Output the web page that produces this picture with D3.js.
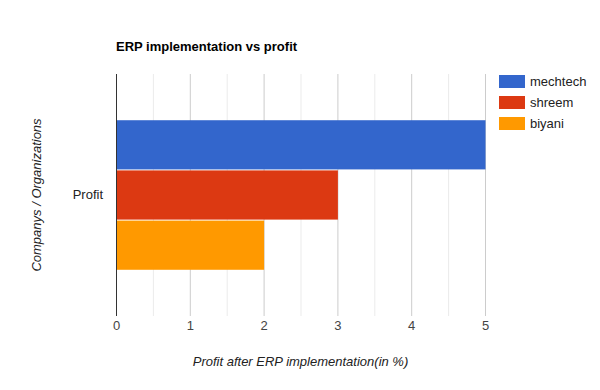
<!DOCTYPE html>
<html>
<head>
<meta charset="utf-8">
<script src="https://cdn.jsdelivr.net/npm/d3@7"></script>
<style>
body{margin:0;background:#fff;}
text{font-family:Arial,"Liberation Sans",sans-serif;}
</style>
</head>
<body>
<svg id="c" width="600" height="390"></svg>
<script>
const categories = ["Profit"];
const seriesNames = ["mechtech", "shreem", "biyani"];
const seriesValues = [[5], [3], [2]];
const seriesColors = ["#3366cc", "#dc3912", "#ff9900"];
const xTicks = [0, 1, 2, 3, 4, 5];
const minorTicks = [0.5, 1.5, 2.5, 3.5, 4.5];
const title = "ERP implementation vs profit";
const xTitle = "Profit after ERP implementation(in %)";
const yTitle = "Companys / Organizations";

const svg = d3.select("#c");
const pLeft = 116, pRight = 485, pTop = 74, pBottom = 316;

const x = d3.scaleLinear().domain([0, 5]).range([pLeft, pRight]);
const y = d3.scaleBand().domain(categories).range([pTop, pBottom]).paddingInner(0).paddingOuter(0);
const groupW = y.bandwidth() * 0.618;
const inner = d3.scaleBand().domain(seriesNames).range([0, groupW]).paddingInner(0.02);

// minor gridlines
svg.append("g").selectAll("line").data(minorTicks).join("line")
  .attr("x1", d => x(d) + 0.5).attr("x2", d => x(d) + 0.5)
  .attr("y1", pTop).attr("y2", pBottom)
  .attr("stroke", "#ebebeb").attr("stroke-width", 1);
// major gridlines
svg.append("g").selectAll("line").data(xTicks.slice(1)).join("line")
  .attr("x1", d => x(d) + 0.5).attr("x2", d => x(d) + 0.5)
  .attr("y1", pTop).attr("y2", pBottom)
  .attr("stroke", "#cccccc").attr("stroke-width", 1);

// bars
categories.forEach((c, ci) => {
  const g0 = y(c) + (y.bandwidth() - groupW) / 2;
  seriesNames.forEach((s, si) => {
    svg.append("rect")
      .attr("x", x(0) + 1)
      .attr("y", g0 + inner(s))
      .attr("width", x(seriesValues[si][ci]) - x(0) - 0.5)
      .attr("height", inner.bandwidth())
      .attr("fill", seriesColors[si]);
  });
});

// baseline axis
svg.append("line").attr("x1", x(0) + 0.5).attr("x2", x(0) + 0.5)
  .attr("y1", pTop).attr("y2", pBottom).attr("stroke", "#333").attr("stroke-width", 1);

// x tick labels
const xAxis = d3.axisBottom(x).tickValues(xTicks).tickSize(0).tickPadding(0).tickFormat(d3.format("d"));
const xg = svg.append("g").attr("transform", `translate(0,${pBottom + 5})`).call(xAxis);
xg.select(".domain").remove();
xg.selectAll("text").attr("font-size", 13).attr("fill", "#444").attr("dy", "0.71em")
  .attr("font-family", "Arial, 'Liberation Sans', sans-serif");

// y category labels
const yAxis = d3.axisLeft(y).tickSize(0).tickPadding(0);
const yg = svg.append("g").attr("transform", `translate(${pLeft - 13},0)`).call(yAxis);
yg.select(".domain").remove();
yg.selectAll("text").attr("font-size", 13).attr("fill", "#222")
  .attr("font-family", "Arial, 'Liberation Sans', sans-serif");

// title
svg.append("text").attr("x", pLeft).attr("y", 51).text(title)
  .attr("font-size", 13).attr("font-weight", "bold").attr("fill", "#000");

// axis titles
svg.append("text").attr("x", (pLeft + pRight) / 2).attr("y", 366).attr("text-anchor", "middle")
  .attr("font-size", 13).attr("font-style", "italic").attr("fill", "#222").text(xTitle);
svg.append("text").attr("transform", `translate(41,${(pTop + pBottom) / 2}) rotate(-90)`)
  .attr("text-anchor", "middle").attr("font-size", 13).attr("font-style", "italic")
  .attr("fill", "#222").text(yTitle);

// legend
const lg = svg.append("g").selectAll("g").data(seriesNames).join("g")
  .attr("transform", (d, i) => `translate(499,${75 + i * 21})`);
lg.append("rect").attr("width", 26).attr("height", 13).attr("fill", (d, i) => seriesColors[i]);
lg.append("text").attr("x", 31).attr("y", 11).attr("font-size", 13).attr("fill", "#222").text(d => d);
</script>
</body>
</html>
